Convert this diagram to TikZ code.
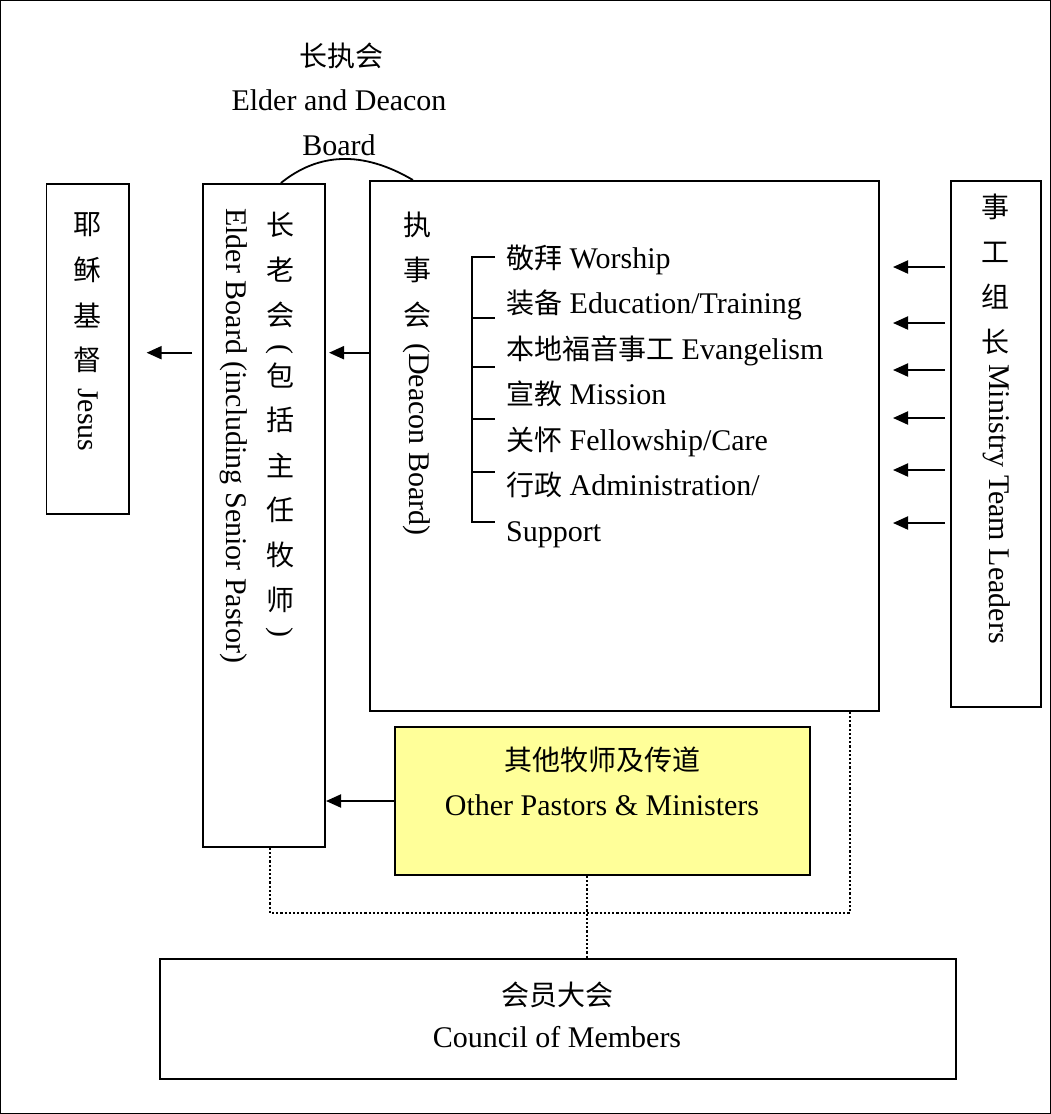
\documentclass[tikz,border=0pt]{standalone}
\usepackage{fontspec}
\setmainfont{Liberation Serif}
\newfontfamily\cjkfont{Noto Sans CJK SC}
\usetikzlibrary{arrows.meta}
\newcommand\myzh[1]{{\cjkfont\fontsize{28}{34}\selectfont #1}}
\definecolor{paleyellow}{HTML}{FFFF99}
\begin{document}
\begin{tikzpicture}[x=1pt,y=-1pt,
  box/.style={draw, line width=1.8pt, inner sep=0pt, anchor=north west},
  txt/.style={inner sep=0pt, font=\fontsize{30}{36}\selectfont},
  vtxt/.style={txt, rotate=-90, anchor=mid west},
  vzh/.style={inner sep=0pt, anchor=center},
  arr/.style={line width=2pt, -{Triangle[length=15pt,width=13pt]}},
  dotline/.style={line width=2.4pt, dash pattern=on 2.2pt off 2pt},
  thinline/.style={line width=1.8pt}]
\useasboundingbox (0,0) rectangle (1051,1114);
\draw[line width=1.2pt] (0.6,0.6) rectangle (1050.4,1113.4);

% boxes
\node[box, minimum width=82.5pt, minimum height=330pt] (jesus) at (45.5,183) {};
\node[box, minimum width=122pt, minimum height=663pt] (elder) at (202,183) {};
\node[box, minimum width=509pt, minimum height=530pt] (deacon) at (369,180) {};
\node[box, minimum width=90pt, minimum height=526pt] (ministry) at (950,180) {};
\node[box, fill=paleyellow, minimum width=415pt, minimum height=148pt] (pastors) at (394,726) {};
\node[box, minimum width=796pt, minimum height=120pt] (members) at (159,958) {};

% title
\node[vzh] (t1) at (341,56) {\myzh{长执会}};
\node[txt, anchor=base] (t2) at (339,110) {Elder and Deacon};
\node[txt, anchor=base] (t3) at (339,155) {Board};
\draw[thinline] ([xshift=17pt]elder.north) .. controls (318,153) and (362,150) .. ([xshift=-211.5pt]deacon.north);

% Jesus column
\foreach \c [count=\i] in {耶,稣,基,督}
  \node[vzh] (jz\i) at (87,{225+45*(\i-1)}) {\myzh{\c}};
\node[vtxt] (jen) at (81,388) {Jesus};

% Elder column
\foreach \c/\yy [count=\i] in {长/225,老/270,会/315,包/375,括/420,主/465,任/510,牧/555,师/600}
  \node[vzh] (ez\i) at (280,\yy) {\myzh{\c}};
\node[txt, rotate=-90] (epl) at (280,349) {(};
\node[txt, rotate=-90] (epr) at (280,632) {)};
\node[vtxt] (een) at (229,208) {Elder Board (including Senior Pastor)};

% Deacon column
\foreach \c/\yy [count=\i] in {执/225,事/270,会/315}
  \node[vzh] (dz\i) at (417,\yy) {\myzh{\c}};
\node[vtxt] (den) at (412,343) {(Deacon Board)};

% Ministry column
\foreach \c/\yy [count=\i] in {事/207,工/252,组/297,长/342}
  \node[vzh] (mz\i) at (995,\yy) {\myzh{\c}};
\node[vtxt] (men) at (992,364) {Ministry Team Leaders};

% list
\node[txt, anchor=base west] (it1) at (506,268) {\myzh{敬拜} Worship};
\node[txt, anchor=base west] (it2) at (506,313.5) {\myzh{装备} Education/Training};
\node[txt, anchor=base west] (it3) at (506,359) {\myzh{本地福音事工} Evangelism};
\node[txt, anchor=base west] (it4) at (506,404.5) {\myzh{宣教} Mission};
\node[txt, anchor=base west] (it5) at (506,450) {\myzh{关怀} Fellowship/Care};
\node[txt, anchor=base west] (it6) at (506,495.5) {\myzh{行政} Administration/};
\node[txt, anchor=base west] (it7) at (506,541) {Support};
\draw[thinline] (495,257) -- (472,257) -- (472,522) -- (495,522);
\foreach \yy in {318,367,419,472}
  \draw[thinline] (472,\yy) -- (495,\yy);

% pastors / members text
\node[vzh] (p1) at (602,760) {\myzh{其他牧师及传道}};
\node[txt, anchor=base] (p2) at (602,815) {Other Pastors \& Ministers};
\node[vzh] (m1) at (557,995) {\myzh{会员大会}};
\node[txt, anchor=base] (m2) at (557,1047) {Council of Members};

% arrows
\coordinate (a1s) at (192,352.7);
\coordinate (a1e) at (146.6,352.7);
\coordinate (a2e) at (329,352.7);
\coordinate (a3e) at (326,801);
\draw[arr] (a1s) -- (a1e);
\draw[arr] (deacon.west |- a1s) -- (a2e);
\draw[arr] (pastors.west |- a3e) -- (a3e);
\foreach \yy [count=\i] in {267,323,370,418,470,523} {
  \coordinate (ms\i) at (945,\yy);
  \coordinate (me\i) at (893,\yy);
  \draw[arr] (ms\i) -- (me\i);
}

% dotted connections
\coordinate (dL) at (270,913);
\coordinate (dR) at (850,913);
\coordinate (dM) at (587,913);
\draw[dotline] (elder.south -| dL) -- (dL) -- (dR) -- (deacon.south -| dR);
\draw[dotline] (pastors.south -| dM) -- (members.north -| dM);
\end{tikzpicture}
\end{document}
